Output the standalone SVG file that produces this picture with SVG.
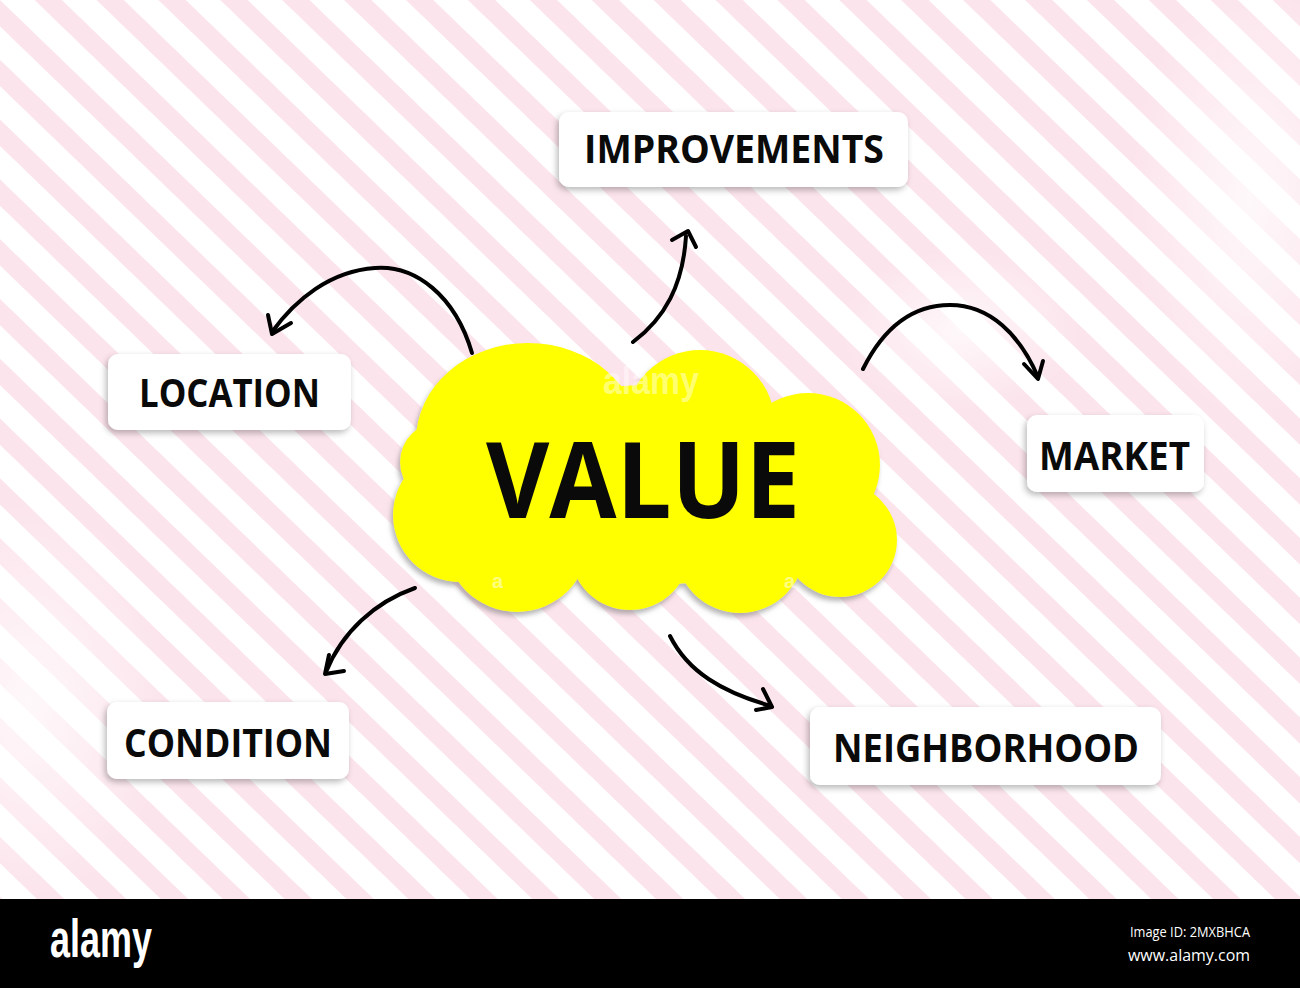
<svg xmlns="http://www.w3.org/2000/svg" width="1300" height="988" viewBox="0 0 1300 988">
  <defs>
    <pattern id="stripes" patternUnits="userSpaceOnUse" width="200" height="43" patternTransform="rotate(44)">
      <rect x="0" y="0" width="200" height="43" fill="#ffffff"/>
      <rect x="0" y="0" width="200" height="19" fill="#fce4ec"/>
    </pattern>
    <radialGradient id="hazeL" cx="0.5" cy="0.5" r="0.5">
      <stop offset="0" stop-color="#ffffff" stop-opacity="0.75"/>
      <stop offset="1" stop-color="#ffffff" stop-opacity="0"/>
    </radialGradient>
    <filter id="boxShadow" x="-20%" y="-30%" width="140%" height="170%">
      <feDropShadow dx="-2" dy="3" stdDeviation="3" flood-color="#000000" flood-opacity="0.28"/>
    </filter>
    <filter id="cloudShadow" x="-10%" y="-10%" width="120%" height="125%">
      <feDropShadow dx="-2" dy="4" stdDeviation="2.5" flood-color="#7a7a7a" flood-opacity="0.55"/>
    </filter>
    <style>
      .box { fill: #ffffff; filter: url(#boxShadow); }
      .label { font-family: "Open Sans", "Liberation Sans", sans-serif; font-weight: 700; fill: #0a0a0a; font-size: 39px; }
      .conn { fill: none; stroke: #000000; stroke-width: 4; stroke-linecap: round; stroke-linejoin: round; }
      .cloud { fill: #ffff00; }
      .wm { font-family: "Liberation Sans", sans-serif; font-weight: 700; fill: #ffffff; }
    </style>
  </defs>

  <!-- background -->
  <rect x="0" y="0" width="1300" height="899" fill="url(#stripes)"/>
  <ellipse cx="30" cy="700" rx="140" ry="200" fill="url(#hazeL)"/>
  <ellipse cx="960" cy="330" rx="120" ry="80" fill="url(#hazeL)"/>
  <ellipse cx="1250" cy="200" rx="120" ry="220" fill="url(#hazeL)"/>

  <!-- central cloud -->
  <g id="node-value">
    <g filter="url(#cloudShadow)">
      <g class="cloud">
        <ellipse cx="528" cy="440" rx="112" ry="97"/>
        <circle cx="700" cy="425" r="75"/>
        <circle cx="808" cy="465" r="72"/>
        <circle cx="840" cy="540" r="57"/>
        <circle cx="517" cy="540" r="72"/>
        <circle cx="630" cy="550" r="60"/>
        <circle cx="740" cy="548" r="65"/>
        <circle cx="460" cy="515" r="67"/>
        <circle cx="440" cy="462" r="40"/>
        <ellipse cx="650" cy="485" rx="200" ry="100"/>
      </g>
    </g>
    <text x="486" y="518" class="label" style="font-size:106px" textLength="314" lengthAdjust="spacingAndGlyphs">VALUE</text>
    <text x="603" y="394" class="wm" style="font-size:38px" fill-opacity="0.45" textLength="96" lengthAdjust="spacingAndGlyphs">alamy</text>
    <text x="492" y="588" class="wm" style="font-size:20px" fill-opacity="0.5">a</text>
    <text x="784" y="588" class="wm" style="font-size:20px" fill-opacity="0.5">a</text>
  </g>

  <!-- nodes -->
  <g id="node-improvements">
    <rect class="box" x="559" y="112" width="349" height="75" rx="10"/>
    <text x="584" y="163" class="label" textLength="300" lengthAdjust="spacingAndGlyphs">IMPROVEMENTS</text>
  </g>
  <g id="node-location">
    <rect class="box" x="108" y="354" width="243" height="76" rx="10"/>
    <text x="139" y="407" class="label" textLength="181" lengthAdjust="spacingAndGlyphs">LOCATION</text>
  </g>
  <g id="node-market">
    <rect class="box" x="1027" y="415" width="177" height="77" rx="10"/>
    <text x="1039" y="470" class="label" textLength="151" lengthAdjust="spacingAndGlyphs">MARKET</text>
  </g>
  <g id="node-condition">
    <rect class="box" x="107" y="702" width="242" height="77" rx="10"/>
    <text x="124" y="757" class="label" textLength="208" lengthAdjust="spacingAndGlyphs">CONDITION</text>
  </g>
  <g id="node-neighborhood">
    <rect class="box" x="810" y="707" width="351" height="78" rx="10"/>
    <text x="833" y="762" class="label" textLength="306" lengthAdjust="spacingAndGlyphs">NEIGHBORHOOD</text>
  </g>

  <!-- connectors -->
  <g id="connectors">
    <path class="conn" d="M472,353 C455,295 415,265 375,268 C330,271 295,300 272,332"/>
    <path class="conn" d="M268,315 L272,334 L291,323"/>

    <path class="conn" d="M633,342 C665,318 683,285 686,236"/>
    <path class="conn" d="M672,240 L688,231 L696,247"/>

    <path class="conn" d="M863,369 C885,325 915,305 950,305 C990,305 1020,335 1038,377"/>
    <path class="conn" d="M1024,364 L1038,379 L1043,361"/>

    <path class="conn" d="M415,588 C375,602 342,632 326,672"/>
    <path class="conn" d="M329,655 L325,674 L344,671"/>

    <path class="conn" d="M670,636 C688,672 722,692 771,706"/>
    <path class="conn" d="M763,689 L772,707 L756,710"/>
  </g>

  <!-- bottom bar -->
  <g id="footer">
    <rect x="0" y="899" width="1300" height="89" fill="#000000"/>
    <text x="50" y="957" class="wm" style="font-size:54px" textLength="102" lengthAdjust="spacingAndGlyphs">alamy</text>
    <text x="1250" y="937" font-family="'Open Sans', 'DejaVu Sans', sans-serif" font-size="14" fill="#ffffff" text-anchor="end" textLength="120" lengthAdjust="spacingAndGlyphs">Image ID: 2MXBHCA</text>
    <text x="1250" y="961" font-family="'Open Sans', 'DejaVu Sans', sans-serif" font-size="17" fill="#ffffff" text-anchor="end" textLength="122" lengthAdjust="spacingAndGlyphs">www.alamy.com</text>
  </g>
</svg>
